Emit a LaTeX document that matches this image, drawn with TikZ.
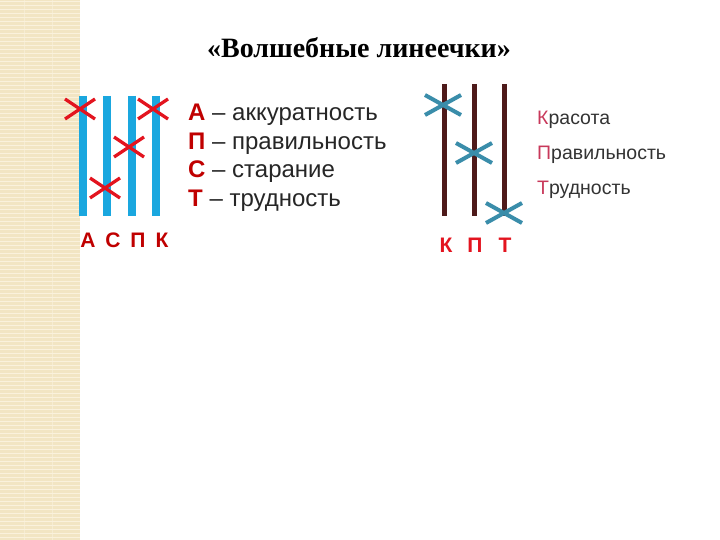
\documentclass[tikz,border=0pt]{standalone}
\usepackage{fontspec}
\setmainfont{Liberation Sans}
\newfontfamily\serifrus{Liberation Serif}
\begin{document}
\begin{tikzpicture}[x=1pt,y=-1pt,
  blueline/.style={draw=blueL,line width=8pt},
  brownline/.style={draw=brownL,line width=5pt},
  redx/.style={draw=redX,line width=3.2pt},
  tealx/.style={draw=tealX,line width=4pt},
  lab/.style={font=\fontsize{21}{21}\selectfont\bfseries,text=darkred,inner sep=0pt},
  deftext/.style={font=\fontsize{24}{24}\selectfont,anchor=west,inner sep=0pt,text=black!85},
  rtext/.style={font=\fontsize{19.5}{19.5}\selectfont,anchor=west,inner sep=0pt,text=black!80}]
\definecolor{blueL}{HTML}{1AA7DF}
\definecolor{brownL}{HTML}{4E1A1A}
\definecolor{redX}{HTML}{E3141F}
\definecolor{tealX}{HTML}{3A8DAA}
\definecolor{darkred}{HTML}{C00000}
\definecolor{pinkred}{HTML}{C8385A}
\definecolor{beige}{HTML}{F2E5C3}
\definecolor{beigeL}{HTML}{FAF1DC}
\useasboundingbox (0,0) rectangle (720,540);
\fill[white] (0,0) rectangle (720,540);
% textured strip
\fill[beige] (0,0) rectangle (80,540);
\foreach \yy in {0,4,...,536} {\draw[beigeL,line width=1pt] (0,\yy+1.5) -- (80,\yy+1.5);}
\foreach \xx in {24,52} {\draw[beigeL,line width=0.6pt,opacity=0.6] (\xx,0) -- (\xx,540);}
% title
\node[font=\serifrus\fontsize{28}{28}\selectfont\bfseries,inner sep=0pt] (title) at (359,48) {«Волшебные линеечки»};
% blue lines
\foreach \n/\xx in {1/83,2/107,3/132,4/156} {
  \coordinate (bt\n) at (\xx,96); \coordinate (bb\n) at (\xx,216);
  \draw[blueline] (bt\n) -- (bb\n);}
% red X's
\foreach \n/\cx/\cy in {1/80/109,2/153/109,3/129/147,4/105/188} {
  \coordinate (rx\n) at (\cx,\cy);
  \draw[redx] ([shift={(-15,-10)}]rx\n) -- ([shift={(15,10)}]rx\n);
  \draw[redx] ([shift={(-15,10)}]rx\n) -- ([shift={(15,-10)}]rx\n);}
\node[lab] (l1) at (88,240) {А};
\node[lab] (l2) at (113,240) {С};
\node[lab] (l3) at (138,240) {П};
\node[lab] (l4) at (162,240) {К};
% definitions
\node[deftext] (d1) at (188,115) {\textcolor{darkred}{\bfseries А} – аккуратность};
\node[deftext] (d2) at (188,144) {\textcolor{darkred}{\bfseries П} – правильность};
\node[deftext] (d3) at (188,172) {\textcolor{darkred}{\bfseries С} – старание};
\node[deftext] (d4) at (188,201) {\textcolor{darkred}{\bfseries Т} – трудность};
% brown lines
\foreach \n/\xx in {1/444,2/474,3/504} {
  \coordinate (wt\n) at (\xx,84); \coordinate (wb\n) at (\xx,216);
  \draw[brownline] (wt\n) -- (wb\n);}
% teal X's
\foreach \n/\cx/\cy in {1/443/105,2/474/153,3/504/213} {
  \coordinate (tx\n) at (\cx,\cy);
  \draw[tealx] ([shift={(-18,-10)}]tx\n) -- ([shift={(18,10)}]tx\n);
  \draw[tealx] ([shift={(-18,10)}]tx\n) -- ([shift={(18,-10)}]tx\n);}
\node[lab,text=redX] (k1) at (446,245) {К};
\node[lab,text=redX] (k2) at (475,245) {П};
\node[lab,text=redX] (k3) at (505,245) {Т};
% right words
\node[rtext] (r1) at (537,120) {\textcolor{pinkred}{К}расота};
\node[rtext] (r2) at (537,155) {\textcolor{pinkred}{П}равильность};
\node[rtext] (r3) at (537,190) {\textcolor{pinkred}{Т}рудность};
\end{tikzpicture}
\end{document}
